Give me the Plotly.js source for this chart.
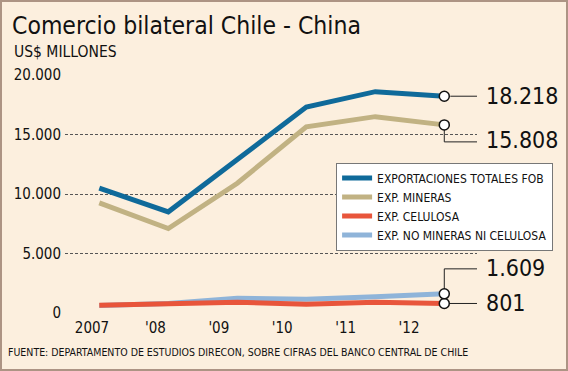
<!DOCTYPE html>
<html>
<head>
<meta charset="utf-8">
<script src="https://cdn.plot.ly/plotly-3.0.1.min.js"></script>
<style>
  html, body { margin: 0; padding: 0; background: #fcefde; }
  #wrap { width: 564px; height: 367px; border: 2px solid #ad9484; }
  #chart { width: 564px; height: 367px; }
</style>
</head>
<body>
<div id="wrap"><div id="chart"></div></div>
<script>
// ---- data ----
const years = ['2007', '2008', '2009', '2010', '2011', '2012'];
const xTickLabels = ['2007', "'08", "'09", "'10", "'11", "'12"];
const totalFOB = [10500, 8500, 12900, 17300, 18600, 18218];
const mineras = [9250, 7100, 10900, 15650, 16500, 15808];
const celulosa = [660, 750, 900, 730, 900, 801];
const noMineras = [640, 800, 1230, 1150, 1370, 1609];
const seriesNames = ['EXPORTACIONES TOTALES FOB', 'EXP. MINERAS', 'EXP. CELULOSA', 'EXP. NO MINERAS NI CELULOSA'];
const yTickVals = [0, 5000, 10000, 15000, 20000];

// ---- style ----
const FONT = '"DejaVu Sans Condensed", "Liberation Sans Narrow", "DejaVu Sans", sans-serif';
const colors = ['#0f6a9a', '#c1b283', '#e8553b', '#8fb4d9'];
const series = [totalFOB, mineras, celulosa, noMineras];
const last = years.length - 1;

function fmt(v) {
  return String(Math.round(v)).replace(/\B(?=(\d{3})+(?!\d))/g, '.');
}

// draw order: light blue, red, tan, blue (legend keeps original order)
const drawOrder = [3, 2, 1, 0];
const traces = drawOrder.map(i => ({
  type: 'scatter', mode: 'lines',
  x: years, y: series[i], name: seriesNames[i],
  line: { color: colors[i], width: 5 },
  legendrank: i + 1,
  hoverinfo: 'skip',
  cliponaxis: false
}));

// end-point circles
traces.push({
  type: 'scatter', mode: 'markers',
  x: series.map(() => years[last]),
  y: series.map(s => s[last]),
  marker: { symbol: 'circle', size: 10, color: '#ffffff', line: { color: '#111', width: 1.5 } },
  showlegend: false, hoverinfo: 'skip', cliponaxis: false
});

// dummy trace for the tick-label axis
traces.push({ type: 'scatter', mode: 'none', x: [0], y: [null], xaxis: 'x2', showlegend: false, hoverinfo: 'skip' });

// leader lines anchored on the last data points (pixel offsets)
const leaderPaths = ['M6,0 H35', 'M0,-5 V-17 H35', 'M5,0 H36', 'M0,5 V25 H36'];
const shapes = series.map((s, i) => ({
  type: 'path', layer: 'below',
  xref: 'x', yref: 'y', xsizemode: 'pixel', ysizemode: 'pixel',
  xanchor: last, yanchor: s[last],
  path: leaderPaths[i],
  line: { color: '#222', width: 1 }
}));

const labelYShift = [0, -15, 0, 26];
const annotations = series.map((s, i) => ({
  x: last, y: s[last], xref: 'x', yref: 'y',
  text: fmt(s[last]), showarrow: false,
  xanchor: 'left', yanchor: 'middle', xshift: 40, yshift: labelYShift[i],
  font: { family: FONT, size: 23, color: '#111' }
}));
annotations.push({
  xref: 'paper', yref: 'paper', x: -0.1286, y: 1.0966,
  xanchor: 'left', yanchor: 'middle', showarrow: false,
  text: 'US$ MILLONES', font: { family: FONT, size: 15.5, color: '#111' }
});
annotations.push({
  xref: 'paper', yref: 'paper', x: -0.143, y: -0.164,
  xanchor: 'left', yanchor: 'middle', showarrow: false,
  text: 'FUENTE: DEPARTAMENTO DE ESTUDIOS DIRECON, SOBRE CIFRAS DEL BANCO CENTRAL DE CHILE',
  font: { family: FONT, size: 10.5, color: '#111' }
});

const layout = {
  width: 564, height: 367,
  paper_bgcolor: '#fcefde', plot_bgcolor: 'rgba(0,0,0,0)',
  margin: { l: 63, r: 89, t: 73, b: 56 },
  separators: ',.',
  font: { family: FONT, color: '#111' },
  title: {
    text: 'Comercio bilateral Chile - China',
    x: 10 / 564, xanchor: 'left', xref: 'container',
    y: 1 - 23 / 367, yanchor: 'middle', yref: 'container',
    font: { family: FONT, size: 24.5, color: '#111' }
  },
  xaxis: {
    type: 'category', range: [-0.497, 5.474],
    showticklabels: false, showgrid: false, zeroline: false, showline: false, ticks: ''
  },
  xaxis2: {
    type: 'linear', overlaying: 'x', anchor: 'y', side: 'bottom',
    range: [-0.426, 6.072],
    tickvals: years.map((_, i) => i), ticktext: xTickLabels,
    tickfont: { family: FONT, size: 15, color: '#111' },
    showgrid: false, zeroline: false, showline: false, ticks: '', ticklabelstandoff: 4
  },
  yaxis: {
    range: [0, 20000], tickvals: yTickVals, tickformat: ',d',
    tickfont: { family: FONT, size: 15, color: '#111' },
    showgrid: true, gridcolor: '#555', gridwidth: 1, griddash: '3px,2px',
    zeroline: false, showline: false, ticks: '', ticklabelstandoff: 3
  },
  legend: {
    x: 0.658, y: 0.632, xanchor: 'left', yanchor: 'top',
    bgcolor: '#ffffff', bordercolor: '#777', borderwidth: 1,
    font: { family: FONT, size: 12, color: '#111' },
    traceorder: 'normal', tracegroupgap: 0, itemwidth: 30
  },
  shapes: shapes,
  annotations: annotations,
  showlegend: true
};

Plotly.newPlot('chart', traces, layout, { staticPlot: true, displayModeBar: false });
</script>
</body>
</html>
